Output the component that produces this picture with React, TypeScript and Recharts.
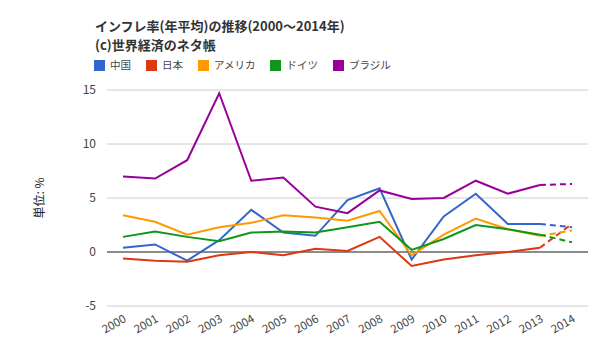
import { LineChart, Line, XAxis, YAxis, CartesianGrid, ReferenceLine } from 'recharts';

const years = ['2000', '2001', '2002', '2003', '2004', '2005', '2006', '2007', '2008', '2009', '2010', '2011', '2012', '2013', '2014'];

const china = [0.4, 0.7, -0.8, 1.1, 3.9, 1.8, 1.5, 4.8, 5.9, -0.7, 3.3, 5.4, 2.6, 2.6, 2.3];
const japan = [-0.6, -0.8, -0.9, -0.3, 0.0, -0.3, 0.3, 0.1, 1.4, -1.3, -0.7, -0.3, 0.0, 0.4, 2.6];
const usa = [3.4, 2.8, 1.6, 2.3, 2.7, 3.4, 3.2, 2.9, 3.8, -0.3, 1.6, 3.1, 2.1, 1.5, 2.0];
const germany = [1.4, 1.9, 1.4, 1.0, 1.8, 1.9, 1.8, 2.3, 2.8, 0.2, 1.2, 2.5, 2.1, 1.6, 0.9];
const brazil = [7.0, 6.8, 8.5, 14.7, 6.6, 6.9, 4.2, 3.6, 5.7, 4.9, 5.0, 6.6, 5.4, 6.2, 6.3];

// last year is an estimate -> dashed
const estimateFrom = 13;

const series = [
  { key: 'cn', name: '中国', color: '#3366cc', values: china },
  { key: 'jp', name: '日本', color: '#dc3912', values: japan },
  { key: 'us', name: 'アメリカ', color: '#ff9900', values: usa },
  { key: 'de', name: 'ドイツ', color: '#109618', values: germany },
  { key: 'br', name: 'ブラジル', color: '#990099', values: brazil },
];

const yTicks = [-5, 0, 5, 10, 15];

const data = years.map((year, i) => {
  const row: Record<string, any> = { year };
  series.forEach(s => {
    row[s.key] = i <= estimateFrom ? s.values[i] : null;
    row[s.key + 'Est'] = i >= estimateFrom ? s.values[i] : null;
  });
  return row;
});

const font = "'Noto Sans CJK JP', sans-serif";

export default function App() {
  return (
    <div style={{ position: 'absolute', left: 0, top: 0, width: 600, height: 360, fontFamily: font, background: '#fff' }}>
      <div style={{ position: 'absolute', left: 95, top: 16, fontSize: 13, fontWeight: 'bold', color: '#333', lineHeight: '19px' }}>
        <div>インフレ率(年平均)の推移(2000～2014年)</div>
        <div>(c)世界経済のネタ帳</div>
      </div>
      <div style={{ position: 'absolute', left: 94, top: 57, display: 'flex', fontSize: 10.5, color: '#444', lineHeight: '16px' }}>
        {series.map(s => (
          <div key={s.key} style={{ display: 'flex', alignItems: 'center', marginRight: 15 }}>
            <span style={{ display: 'inline-block', width: 11, height: 11, background: s.color, marginRight: 5 }} />
            <span>{s.name}</span>
          </div>
        ))}
      </div>
      <LineChart
        width={600}
        height={360}
        data={data}
        margin={{ top: 90, right: 12, bottom: 24, left: 0 }}
        style={{ position: 'absolute', left: 0, top: 0 }}
      >
        <CartesianGrid vertical={false} stroke="#cccccc" />
        <XAxis
          dataKey="year"
          interval={0}
          axisLine={false}
          tickLine={false}
          padding={{ left: 16, right: 16 }}
          height={30}
          tick={{ fontSize: 11.5, fill: '#444', angle: -30, textAnchor: 'end', fontFamily: font }}
        />
        <YAxis
          width={107}
          domain={[-5, 15]}
          ticks={yTicks}
          axisLine={false}
          tickLine={false}
          tickMargin={5}
          tick={{ fontSize: 12, fill: '#444', fontFamily: font }}
          label={{
            content: () => (
              <text x={44} y={198} transform="rotate(-90 44 198)" textAnchor="middle" fontSize={12} fill="#222" fontFamily={font}>
                単位: %
              </text>
            ),
          }}
        />
        <ReferenceLine y={0} stroke="#333" strokeWidth={1} />
        {series.map(s => (
          <Line
            key={s.key}
            dataKey={s.key}
            name={s.name}
            stroke={s.color}
            strokeWidth={2}
            dot={false}
            activeDot={false}
            connectNulls={false}
            isAnimationActive={false}
          />
        ))}
        {series.map(s => (
          <Line
            key={s.key + 'Est'}
            dataKey={s.key + 'Est'}
            stroke={s.color}
            strokeWidth={2}
            strokeDasharray="6 4"
            dot={false}
            activeDot={false}
            legendType="none"
            isAnimationActive={false}
          />
        ))}
      </LineChart>
    </div>
  );
}
